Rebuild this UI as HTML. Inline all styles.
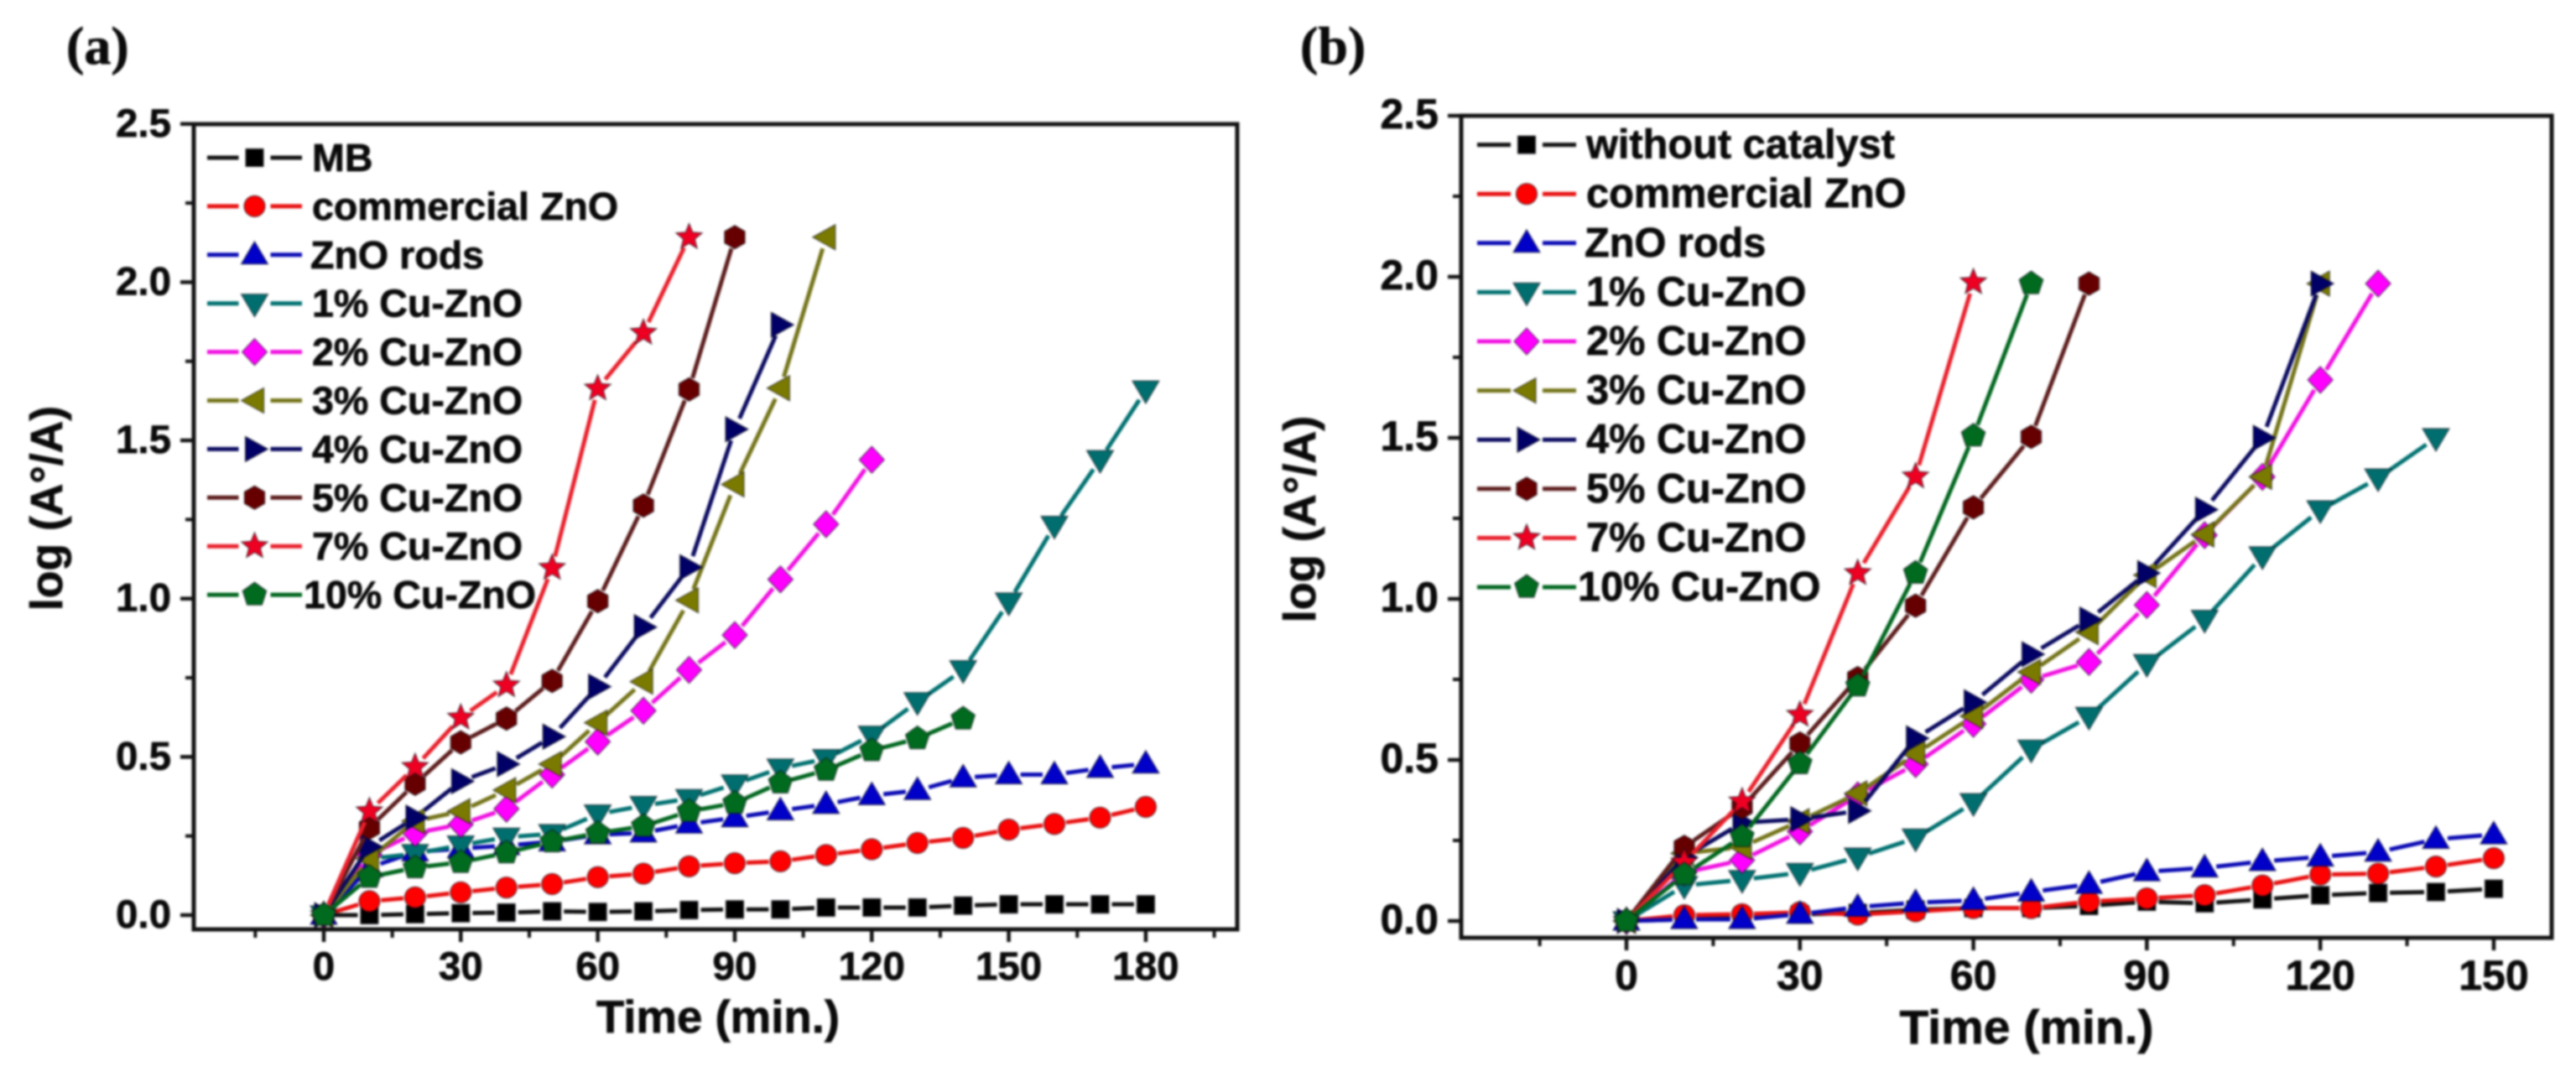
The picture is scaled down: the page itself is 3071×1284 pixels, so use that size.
<!DOCTYPE html>
<html lang="en">
<head>
<meta charset="utf-8">
<title>log (A°/A) versus time for ZnO and Cu-ZnO catalysts</title>
<style>
html,body{margin:0;padding:0;background:#fff;width:3071px;height:1284px;overflow:hidden}
svg{display:block;filter:blur(1.4px)}
text{font-family:"Liberation Sans",sans-serif;font-weight:bold;fill:#0a0a0a;stroke:#0a0a0a;stroke-width:0.7px}
.panel-tag{font-family:"Liberation Serif",serif;font-size:64px}
</style>
</head>
<body>
<svg id="fig" xmlns="http://www.w3.org/2000/svg" width="3071" height="1284" viewBox="0 0 3071 1284">
  <rect width="3071" height="1284" fill="#fff"/>
  <text class="panel-tag" x="79" y="76">(a)</text>
  <text class="panel-tag" x="1550" y="76">(b)</text>
  <g id="panelA">
    <text x="856" y="1231" text-anchor="middle" font-size="54.6">Time (min.)</text>
    <text transform="translate(74,606) rotate(-90)" text-anchor="middle" font-size="53.5">log (A°/A)</text>
  </g>
  <g id="panelB">
    <text x="2416" y="1244" text-anchor="middle" font-size="57">Time (min.)</text>
    <text transform="translate(1568,619) rotate(-90)" text-anchor="middle" font-size="54">log (A°/A)</text>
  </g>
</svg>
<script>
// ---- shared tick data ----
const yTickLabels = ["0.0","0.5","1.0","1.5","2.0","2.5"];
const yMinorTicks = [0.25,0.75,1.25,1.75,2.25];
const seriesColors = ["#000000","#ff0000","#0000c8","#006e6e","#ff00ff","#7a7a00","#000066","#660000","#ee0022","#006a1e"];
const lineColors = ["#111111","#e81010","#0a0ab4","#007070","#f010e0","#74741a","#0a0a60","#5c1c1c","#e8202c","#00661e"];
const markerKinds = ["square","circle","up","down","diamond","left","right","hexagon","star","pentagon"];

// ---- panel (a) data ----
const timesA = [0,10,20,30,40,50,60,70,80,90,100,110,120,130,140,150,160,170,180];
const xTickLabelsA = ["0","30","60","90","120","150","180"];
const xMinorTicksA = [-15,15,45,75,105,135,165,195];
const legendA = ["MB","commercial ZnO","ZnO rods","1% Cu-ZnO","2% Cu-ZnO","3% Cu-ZnO","4% Cu-ZnO","5% Cu-ZnO","7% Cu-ZnO","10% Cu-ZnO"];
const mbA = [0,0.0,0.003,0.006,0.008,0.012,0.01,0.012,0.016,0.018,0.018,0.024,0.024,0.024,0.03,0.034,0.034,0.034,0.034];
const commercialA = [0,0.044,0.056,0.072,0.087,0.098,0.12,0.131,0.154,0.164,0.17,0.19,0.208,0.228,0.244,0.27,0.288,0.308,0.342];
const rodsA = [0,0.15,0.2,0.21,0.22,0.232,0.254,0.26,0.288,0.308,0.33,0.35,0.378,0.394,0.434,0.444,0.444,0.464,0.478];
const cu1A = [0,0.178,0.194,0.221,0.246,0.257,0.319,0.346,0.368,0.414,0.464,0.494,0.568,0.674,0.775,0.989,1.231,1.439,1.659];
const cu2A = [0,0.19,0.259,0.287,0.336,0.444,0.548,0.646,0.775,0.885,1.061,1.235,1.439];
const cu3A = [0,0.178,0.297,0.328,0.395,0.477,0.608,0.738,0.995,1.361,1.665,2.142];
const cu4A = [0,0.216,0.308,0.423,0.477,0.564,0.722,0.91,1.099,1.535,1.865];
const cu5A = [0,0.276,0.415,0.546,0.621,0.74,0.992,1.294,1.661,2.142];
const cu7A = [0,0.328,0.468,0.624,0.726,1.097,1.664,1.84,2.142];
const cu10A = [0,0.12,0.15,0.167,0.197,0.232,0.259,0.281,0.328,0.354,0.418,0.458,0.52,0.558,0.62];

// ---- panel (b) data ----
const timesB = [0,10,20,30,40,50,60,70,80,90,100,110,120,130,140,150];
const xTickLabelsB = ["0","30","60","90","120","150"];
const xMinorTicksB = [-15,15,45,75,105,135];
const legendB = ["without catalyst","commercial ZnO","ZnO rods","1% Cu-ZnO","2% Cu-ZnO","3% Cu-ZnO","4% Cu-ZnO","5% Cu-ZnO","7% Cu-ZnO","10% Cu-ZnO"];
const noCatB = [0,0.005,0.01,0.02,0.025,0.035,0.04,0.04,0.047,0.06,0.055,0.067,0.08,0.087,0.09,0.1];
const commercialB = [0,0.018,0.021,0.027,0.02,0.03,0.04,0.04,0.06,0.07,0.08,0.11,0.144,0.147,0.169,0.195];
const rodsB = [0,0.005,0.005,0.021,0.043,0.057,0.064,0.09,0.114,0.153,0.165,0.185,0.199,0.214,0.254,0.268];
const cu1B = [0,0.11,0.128,0.15,0.198,0.257,0.367,0.533,0.635,0.799,0.936,1.133,1.276,1.375,1.5];
const cu2B = [0,0.15,0.189,0.278,0.39,0.487,0.612,0.749,0.804,0.981,1.198,1.379,1.68,1.979];
const cu3B = [0,0.21,0.23,0.31,0.396,0.519,0.636,0.773,0.897,1.074,1.2,1.379,1.979];
const cu4B = [0,0.198,0.305,0.316,0.342,0.567,0.679,0.828,0.936,1.08,1.277,1.5,1.979];
const cu5B = [0,0.23,0.353,0.551,0.754,0.979,1.284,1.503,1.979];
const cu7B = [0,0.182,0.371,0.64,1.08,1.38,1.983];
const cu10B = [0,0.144,0.262,0.489,0.73,1.08,1.506,1.979];

const SVG_NS = "http://www.w3.org/2000/svg";
function make(tag, attrs, parent){
  const el = document.createElementNS(SVG_NS, tag);
  for(const k in attrs){ el.setAttribute(k, attrs[k]); }
  parent.appendChild(el);
  return el;
}
function polyPoints(list, cx, cy){
  return list.map(function(p){ return (cx+p[0]).toFixed(1)+","+(cy+p[1]).toFixed(1); }).join(" ");
}
function regular(n, r, rot){
  const out = [];
  for(let i=0;i<n;i++){
    const a = rot + i*2*Math.PI/n;
    out.push([r*Math.cos(a), r*Math.sin(a)]);
  }
  return out;
}
function starShape(r){
  const out = [];
  for(let i=0;i<10;i++){
    const a = -Math.PI/2 + i*Math.PI/5;
    const rr = i%2===0 ? r : r*0.44;
    out.push([rr*Math.cos(a), rr*Math.sin(a)]);
  }
  return out;
}
function drawMarker(kind, cx, cy, color, parent){
  let el;
  if(kind==="square"){
    el = make("rect",{x:cx-10.5,y:cy-10.5,width:21,height:21,fill:color},parent);
  } else if(kind==="circle"){
    el = make("circle",{cx:cx,cy:cy,r:12.5,fill:color},parent);
  } else {
    let pts;
    if(kind==="up") pts=[[0,-16],[16,11],[-16,11]];
    if(kind==="down") pts=[[0,16],[16,-11],[-16,-11]];
    if(kind==="left") pts=[[-16,0],[11,-15],[11,15]];
    if(kind==="right") pts=[[16,0],[-11,-15],[-11,15]];
    if(kind==="diamond") pts=[[0,-16],[15,0],[0,16],[-15,0]];
    if(kind==="hexagon") pts=regular(6,14,-Math.PI/2);
    if(kind==="pentagon") pts=regular(5,15,-Math.PI/2);
    if(kind==="star") pts=starShape(16.5);
    el = make("polygon",{points:polyPoints(pts,cx,cy),fill:color},parent);
  }
  el.setAttribute("stroke", "#10101a");
  el.setAttribute("stroke-width", "1.2");
  el.setAttribute("stroke-opacity", "0.65");
  return el;
}

function drawPanel(p){
  const g = document.getElementById(p.id);
  const xS = function(v){ return p.x0 + v*p.xUnit; };
  const yS = function(v){ return p.y0 - v*p.yUnit; };

  // series
  p.series.forEach(function(values, si){
    const sg = make("g",{},g);
    
    
    for(let i=1;i<values.length;i++){
      const ax=xS(p.times[i-1]), ay=yS(values[i-1]), bx=xS(p.times[i]), by=yS(values[i]);
      const d=Math.hypot(bx-ax,by-ay);
      const gap=14;
      if(d<=2*gap) continue;
      const ux=(bx-ax)/d, uy=(by-ay)/d;
      const seg = make("line",{x1:ax+ux*gap,y1:ay+uy*gap,x2:bx-ux*gap,y2:by-uy*gap,stroke:lineColors[si],"stroke-width":5},sg);
      
      
    }
    values.forEach(function(v,i){
      const m = drawMarker(markerKinds[si], xS(p.times[i]), yS(v), seriesColors[si], sg);
      
      
    });
  });

  // frame
  const frame = make("rect",{x:p.left,y:p.top,width:p.right-p.left,height:p.bottom-p.top,fill:"none",stroke:"#111",
    "stroke-width":p.frameWidth},g);
  
  

  // y ticks
  yTickLabels.forEach(function(label){
    const y=yS(parseFloat(label));
    const t=make("line",{x1:p.left-16,y1:y,x2:p.left,y2:y,stroke:"#111","stroke-width":4.5},g);
    
    
    const tx=make("text",{x:p.yLabelX,y:y+p.yLabelDy,"text-anchor":"end","font-size":p.tickFont},g);
    tx.textContent=label;
    
    
  });
  yMinorTicks.forEach(function(v){
    const y=yS(v);
    const t=make("line",{x1:p.left-10,y1:y,x2:p.left,y2:y,stroke:"#111","stroke-width":4},g);
    
    
  });

  // x ticks
  p.xLabels.forEach(function(label){
    const x=xS(parseFloat(label));
    const t=make("line",{x1:x,y1:p.bottom,x2:x,y2:p.bottom+15,stroke:"#111","stroke-width":4.5},g);
    
    
    const tx=make("text",{x:x,y:p.xLabelY,"text-anchor":"middle","font-size":p.tickFont},g);
    tx.textContent=label;
    
    
  });
  p.xMinor.forEach(function(v){
    const x=xS(v);
    const t=make("line",{x1:x,y1:p.bottom,x2:x,y2:p.bottom+10,stroke:"#111","stroke-width":4},g);
    
    
  });

  // legend
  p.legend.forEach(function(label,i){
    const lg=make("g",{},g);
    
    
    const y=p.legendY+i*p.legendStep;
    const mid=(p.legendX1+p.legendX2)/2;
    const a=make("line",{x1:p.legendX1,y1:y,x2:mid-19,y2:y,stroke:lineColors[i],"stroke-width":5},lg);
    
    
    const b=make("line",{x1:mid+19,y1:y,x2:p.legendX2,y2:y,stroke:lineColors[i],"stroke-width":5},lg);
    
    
    const m=drawMarker(markerKinds[i],mid,y,seriesColors[i],lg);
    
    
    const tx=make("text",{x:(i===9?p.legendTextX-10:(i===2?p.legendTextX-2:p.legendTextX)),y:y+16,"font-size":p.legendFont},lg);
    tx.textContent=label;
    
    
  });
}

drawPanel({id:"panelA",suffix:"a",times:timesA,
  series:[mbA,commercialA,rodsA,cu1A,cu2A,cu3A,cu4A,cu5A,cu7A,cu10A],
  legend:legendA,xLabels:xTickLabelsA,xMinor:xMinorTicksA,
  x0:386,xUnit:5.444,y0:1091,yUnit:377.3,
  left:231,right:1475,top:148,bottom:1108,frameWidth:5,
  yLabelX:204,yLabelDy:15,xLabelY:1168,tickFont:47.5,
  legendX1:247,legendX2:360,legendY:188,legendStep:57.9,legendTextX:372,legendFont:46.6});

drawPanel({id:"panelB",suffix:"b",times:timesB,
  series:[noCatB,commercialB,rodsB,cu1B,cu2B,cu3B,cu4B,cu5B,cu7B,cu10B],
  legend:legendB,xLabels:xTickLabelsB,xMinor:xMinorTicksB,
  x0:1939,xUnit:6.893,y0:1098,yUnit:384,
  left:1742,right:3042,top:138,bottom:1118,frameWidth:5,
  yLabelX:1715,yLabelDy:15,xLabelY:1180,tickFont:50,
  legendX1:1761,legendX2:1879,legendY:172.6,legendStep:58.6,legendTextX:1891,legendFont:48.7});
</script>
</body>
</html>
